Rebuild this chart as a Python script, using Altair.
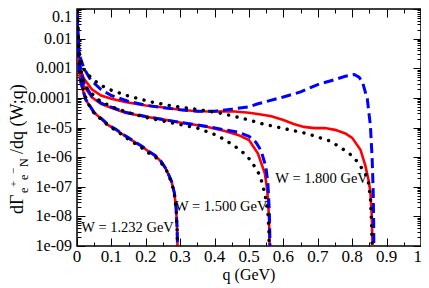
import altair as alt
import pandas as pd

# ---- curves: q (GeV) and log10(dGamma/dq) ----
# W = 1.800 GeV
q18_blue = [0.001,0.003,0.006,0.01,0.02,0.04,0.07,0.1,0.15,0.2,0.25,0.3,0.35,0.4,0.45,0.5,0.526,0.6,0.65,0.7,0.75,0.78,0.806,0.82,0.83,0.844,0.853,0.858,0.861,0.8625,0.8635]
lg18_blue = [-1.1,-1.9,-2.4,-2.65,-3.0,-3.4,-3.72,-3.92,-4.12,-4.25,-4.33,-4.4,-4.45,-4.45,-4.38,-4.3,-4.2,-3.97,-3.8,-3.55,-3.38,-3.27,-3.21,-3.3,-3.47,-4.04,-4.95,-6.05,-7.15,-8.3,-10]
q18_red = [0.001,0.003,0.006,0.01,0.02,0.043,0.07,0.1,0.14,0.2,0.24,0.3,0.35,0.4,0.45,0.5,0.53,0.565,0.6,0.63,0.66,0.69,0.72,0.75,0.78,0.8,0.824,0.838,0.848,0.853,0.857,0.859,0.8605]
lg18_red = [-1.3,-2.2,-2.75,-3.05,-3.35,-3.71,-3.92,-4.03,-4.14,-4.26,-4.31,-4.4,-4.45,-4.46,-4.45,-4.5,-4.55,-4.62,-4.75,-4.88,-4.98,-5.02,-5.02,-5.08,-5.2,-5.35,-5.75,-6.28,-6.8,-7.2,-8.0,-9.0,-10]
q18_black = [0.001,0.004,0.008,0.015,0.04,0.064,0.092,0.15,0.217,0.28,0.344,0.41,0.448,0.478,0.51,0.54,0.607,0.67,0.734,0.763,0.792,0.815,0.838,0.848,0.853,0.856,0.858,0.8595]
lg18_black = [-1.05,-2.1,-2.6,-2.97,-3.31,-3.54,-3.71,-3.94,-4.14,-4.28,-4.38,-4.5,-4.6,-4.68,-4.78,-4.88,-5.05,-5.21,-5.45,-5.65,-5.88,-6.15,-6.55,-6.89,-7.4,-8.2,-9.0,-10]

# W = 1.500 GeV
q15_blue = [0.001,0.003,0.006,0.01,0.02,0.043,0.07,0.092,0.14,0.2,0.24,0.3,0.33,0.38,0.43,0.468,0.5,0.52,0.535,0.549,0.555,0.559,0.5605,0.562]
lg15_blue = [-1.2,-2.1,-2.65,-3.0,-3.5,-3.94,-4.18,-4.28,-4.48,-4.63,-4.71,-4.83,-4.88,-4.97,-5.08,-5.16,-5.3,-5.5,-5.78,-6.32,-6.9,-7.8,-8.6,-10]
q15_red = [0.001,0.003,0.006,0.01,0.02,0.043,0.07,0.092,0.14,0.2,0.24,0.3,0.33,0.38,0.43,0.468,0.5,0.526,0.546,0.553,0.558,0.56,0.561]
lg15_red = [-1.4,-2.3,-2.9,-3.2,-3.6,-3.98,-4.2,-4.3,-4.5,-4.64,-4.71,-4.83,-4.88,-4.98,-5.12,-5.25,-5.42,-5.88,-6.55,-7.1,-8.0,-9.0,-10]
q15_black = [0.001,0.004,0.008,0.015,0.03,0.06,0.1,0.15,0.2,0.25,0.3,0.35,0.41,0.448,0.477,0.506,0.532,0.546,0.555,0.558,0.5595]
lg15_black = [-1.1,-2.2,-2.8,-3.3,-3.7,-4.05,-4.3,-4.5,-4.66,-4.78,-4.9,-5.02,-5.28,-5.55,-5.78,-6.12,-6.62,-7.22,-7.89,-8.56,-10]

# W = 1.232 GeV
q12_blue = [0.001,0.003,0.006,0.01,0.025,0.05,0.072,0.092,0.113,0.13,0.15,0.17,0.19,0.208,0.228,0.245,0.26,0.275,0.283,0.288,0.291,0.2925,0.294]
lg12_blue = [-1.3,-2.4,-3.0,-3.4,-4.04,-4.5,-4.71,-4.92,-5.06,-5.2,-5.35,-5.5,-5.64,-5.8,-5.95,-6.15,-6.42,-6.82,-7.2,-7.7,-8.4,-9.2,-10]
q12_red = [0.001,0.003,0.006,0.01,0.025,0.05,0.072,0.092,0.113,0.13,0.15,0.17,0.19,0.208,0.228,0.245,0.26,0.275,0.283,0.288,0.291,0.2925,0.294]
lg12_red = [-1.5,-2.5,-3.05,-3.45,-4.06,-4.5,-4.72,-4.93,-5.07,-5.21,-5.36,-5.51,-5.65,-5.81,-5.96,-6.16,-6.43,-6.83,-7.22,-7.72,-8.4,-9.2,-10]
q12_black = [0.001,0.004,0.008,0.015,0.03,0.05,0.072,0.092,0.113,0.13,0.15,0.17,0.19,0.208,0.228,0.245,0.26,0.275,0.283,0.288,0.291,0.2925,0.294]
lg12_black = [-1.1,-2.4,-3.1,-3.6,-4.15,-4.52,-4.74,-4.95,-5.1,-5.24,-5.4,-5.55,-5.7,-5.86,-6.0,-6.2,-6.45,-6.85,-7.25,-7.75,-8.45,-9.25,-10]

# annotations
label_text = ["W = 1.232 GeV", "W = 1.500 GeV", "W = 1.800 GeV"]
label_q = [0.147, 0.419, 0.711]
label_lg = [-8.39, -7.68, -6.74]

# axis ticks and tick labels
x_major = [0.0,0.1,0.2,0.3,0.4,0.5,0.6,0.7,0.8,0.9,1.0]
x_labels = ["0","0.1","0.2","0.3","0.4","0.5","0.6","0.7","0.8","0.9","1"]
x_all = [0.0,0.05,0.1,0.15,0.2,0.25,0.3,0.35,0.4,0.45,0.5,0.55,0.6,0.65,0.7,0.75,0.8,0.85,0.9,0.95,1.0]
y_major = [1e-9,1e-8,1e-7,1e-6,1e-5,1e-4,1e-3,1e-2,1e-1]
y_labels = ["1e-09","1e-08","1e-07","1e-06","1e-05","0.0001","0.001","0.01","0.1"]
y_all = [m * 10.0**d for d in range(-9, -1) for m in range(1, 10)] + [0.1]
x_title = "q (GeV)"

curves = [
    ("1.800", "red", q18_red, lg18_red), ("1.500", "red", q15_red, lg15_red), ("1.232", "red", q12_red, lg12_red),
    ("1.800", "blue", q18_blue, lg18_blue), ("1.500", "blue", q15_blue, lg15_blue), ("1.232", "blue", q12_blue, lg12_blue),
    ("1.800", "black", q18_black, lg18_black), ("1.500", "black", q15_black, lg15_black), ("1.232", "black", q12_black, lg12_black),
]
rows = []
for w, kind, qs, lgs in curves:
    for q, l in zip(qs, lgs):
        rows.append({"W": w, "kind": kind, "q": q, "v": 10.0 ** l})
df = pd.DataFrame(rows)
lab = pd.DataFrame({"t": label_text, "q": label_q, "v": [10.0 ** l for l in label_lg]})
xl = pd.DataFrame({"q": x_major, "t": x_labels})
yl = pd.DataFrame({"v": y_major, "t": y_labels})

W, H = 344, 237
FONT = "Liberation Serif"
xs = alt.Scale(domain=[0, 1], nice=False)
ys = alt.Scale(type="log", domain=[1e-9, 0.1], nice=False)

xmaj_test = "abs(datum.value*10 - round(datum.value*10)) < 0.01"
ymaj_test = "abs(log(datum.value)/LN10 - round(log(datum.value)/LN10)) < 0.001"
xtick_size = {"condition": {"test": xmaj_test, "value": 8}, "value": 4}
ytick_size = {"condition": {"test": ymaj_test, "value": 8}, "value": 4}

def tick_axis(orient, offset, values, size):
    return alt.Axis(orient=orient, offset=offset, values=values, labels=False, domain=False, grid=False,
                    tickSize=size, tickColor="black", tickWidth=1, title=None)

def line_layer(kind, color, dash, width, cap="butt"):
    mk = dict(color=color, strokeWidth=width, clip=True, strokeCap=cap)
    if dash:
        mk["strokeDash"] = dash
    return alt.Chart(df[df.kind == kind]).mark_line(**mk).encode(
        x=alt.X("q:Q", scale=xs, axis=None),
        y=alt.Y("v:Q", scale=ys, axis=None),
        detail="W:N",
    )

red = line_layer("red", "#ff0000", None, 2.6)
blue = line_layer("blue", "#0000ff", [10, 5], 3)
black = line_layer("black", "#000000", [0.1, 8.5], 3.4, cap="round")

ticks1 = alt.Chart(df).mark_point(opacity=0).encode(
    x=alt.X("q:Q", scale=xs, axis=tick_axis("top", -H, x_all, xtick_size)),
    y=alt.Y("v:Q", scale=ys, axis=tick_axis("right", -W, y_all, ytick_size)),
)
ticks2 = alt.Chart(df).mark_point(opacity=0).encode(
    x=alt.X("q:Q", scale=xs, axis=tick_axis("bottom", -H, x_all, xtick_size)),
    y=alt.Y("v:Q", scale=ys, axis=tick_axis("left", -W, y_all, ytick_size)),
)

# tick labels drawn as text through the same scales
xlab_mid = alt.Chart(xl.iloc[:-1]).mark_text(font=FONT, fontSize=17, color="black", baseline="middle").encode(
    x=alt.X("q:Q", scale=xs, axis=None), y=alt.value(H + 10.5), text="t:N")
xlab_end = alt.Chart(xl.iloc[-1:]).mark_text(font=FONT, fontSize=17, color="black", baseline="middle",
                                            align="right", dx=1).encode(
    x=alt.X("q:Q", scale=xs, axis=None), y=alt.value(H + 10.5), text="t:N")
ylab_low = alt.Chart(yl.iloc[:-1]).mark_text(font=FONT, fontSize=16, color="black", baseline="middle",
                                            align="right").encode(
    x=alt.value(-5), y=alt.Y("v:Q", scale=ys, axis=None), text="t:N")
ylab_top = alt.Chart(yl.iloc[-1:]).mark_text(font=FONT, fontSize=16, color="black", baseline="middle",
                                            align="right", dy=8).encode(
    x=alt.value(-5), y=alt.Y("v:Q", scale=ys, axis=None), text="t:N")

labels = alt.Chart(lab).mark_text(font=FONT, fontSize=14.5, color="black").encode(
    x=alt.X("q:Q", scale=xs, axis=None), y=alt.Y("v:Q", scale=ys, axis=None), text="t:N")

one = pd.DataFrame({"a": [0]})
def piece(txt, xp, yp, size, angle=270, align="left"):
    return alt.Chart(one).mark_text(text=txt, font=FONT, fontSize=size, angle=angle, align=align,
                                    baseline="middle", color="black").encode(
        x=alt.value(xp), y=alt.value(yp))

title_parts = [
    piece("dΓ", -59, 205, 18),
    piece("e", -53.5, 184, 12),
    piece("+", -63, 178, 11),
    piece("e", -53.5, 171, 12),
    piece("−", -63, 165, 11),
    piece("N", -53.5, 158, 12),
    piece("/dq (W;q)", -59, 145, 18),
    piece(x_title, W / 2, H + 29, 16, angle=0, align="center"),
]

chart = alt.layer(red, blue, black, ticks1, ticks2, xlab_mid, xlab_end, ylab_low, ylab_top,
                  labels, *title_parts).resolve_axis(
    x="independent", y="independent"
).properties(
    width=W, height=H,
    autosize=alt.AutoSizeParams(type="none"),
    padding={"left": 69, "top": 1, "right": 0, "bottom": 42},
).configure_view(stroke="black", strokeWidth=1.5)

chart.save("out.html", embed_options={"renderer": "svg", "actions": False})
